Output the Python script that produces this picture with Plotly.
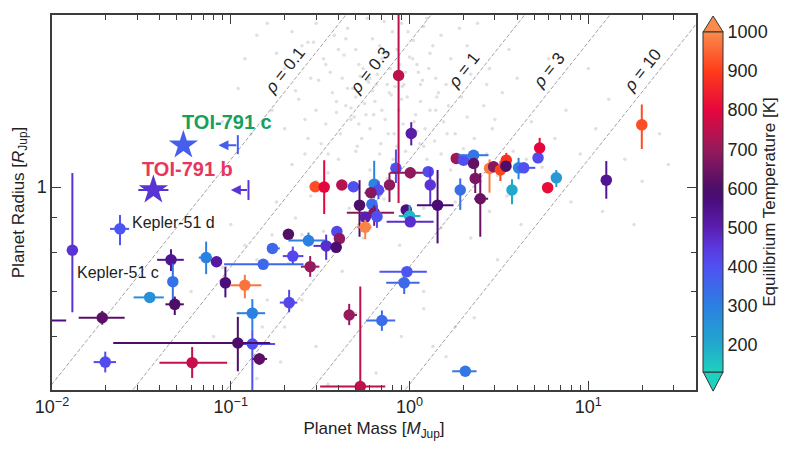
import numpy as np
import plotly.graph_objects as go
from plotly.colors import sample_colorscale

# Planets with measured mass and radius (Jupiter units) and equilibrium temperature [K]
mass = [0.0130, 0.0240, 0.0191, 0.0085, 0.01986, 0.0463, 0.0474, 0.0486, 0.0352, 0.0728,
        0.0832, 0.0933, 0.1518, 0.1198, 0.132, 0.132, 0.1095, 0.1445, 0.0608, 0.210,
        0.272, 0.171, 0.2223, 0.278, 0.2965, 0.333, 0.418, 0.4856, 0.634, 0.670,
        0.608, 0.772, 0.839, 0.868, 1.009, 1.272, 1.305, 1.434, 1.921, 1.825,
        2.005, 2.28, 2.28, 2.33, 2.486, 0.6156, 0.525, 0.634, 0.565, 0.657,
        0.565, 0.958, 1.0, 1.009, 1.022, 0.392, 0.405, 0.3416, 0.3886, 0.966,
        0.933, 0.212, 0.4595, 0.700, 0.530, 2.05, 2.80, 2.95, 3.22, 3.475,
        3.46, 3.74, 4.07, 4.35, 5.23, 5.34, 5.92, 6.62, 12.6, 19.9]
mass_lo = [None, 0.0211, 0.0141, 0.0060, 0.0171, 0.0387, None, 0.0431, 0.0286, 0.0662,
           None, None, 0.0918, 0.0991, 0.108, 0.111, 0.0220, 0.132, 0.0399, None,
           0.210, 0.160, 0.1954, 0.2466, 0.28, None, None, None, None, None,
           0.56, None, None, None, 0.774, None, None, 1.099, 1.85, 1.72,
           None, 1.877, None, None, 2.30, None, None, 0.4457, None, None,
           0.5055, None, 0.870, 0.744, None, None, None, 0.29, None, 0.679,
           0.740, 0.188, 0.434, 0.572, 0.316, 1.732, None, None, None, None,
           None, None, None, 3.99, None, None, None, None, None, None]
mass_hi = [None, 0.0270, 0.0255, 0.0120, 0.0228, 0.0546, None, 0.0546, 0.0422, 0.0785,
           None, None, 0.255, 0.1484, 0.1556, 0.177, 0.166, 0.1596, 0.0954, None,
           0.3375, 0.188, 0.2549, 0.313, 0.31, None, None, None, None, None,
           0.65, None, None, None, 1.272, None, None, 1.761, 2.0, 1.92,
           None, 2.764, None, None, 2.75, None, None, 0.819, None, None,
           0.613, None, 1.15, 1.363, None, None, None, 0.40, None, 1.249,
           1.137, 0.2353, 0.508, 0.831, 0.731, 2.37, None, None, None, None,
           None, None, None, 5.05, None, None, None, None, None, None]
radius = [0.806, 0.867, 0.640, 0.634, 0.550, 0.780, 0.724, 0.670, 0.686, 0.786,
          0.775, 0.721, 0.768, 0.715, 0.650, 0.585, 0.587, 0.556, 0.549, 0.851,
          0.833, 0.811, 0.790, 0.762, 1.001, 1.0, 1.007, 1.001, 1.010, 0.990,
          0.981, 1.007, 1.066, 1.464, 1.050, 1.054, 1.007, 0.940, 0.990, 1.103,
          1.096, 1.115, 1.084, 1.030, 0.961, 0.943, 0.940, 0.916, 0.902, 0.904,
          0.872, 0.925, 0.906, 0.888, 1.201, 0.859, 0.839, 0.818, 0.814, 0.749,
          0.721, 0.674, 0.646, 0.634, 0.506, 0.533, 1.066, 1.072, 1.060, 1.096,
          1.074, 0.990, 1.068, 1.068, 1.105, 1.143, 0.998, 1.032, 1.024, 1.237]
radius_lo = [0.652, 0.820, 0.625, None, 0.531, 0.751, 0.66, 0.646, None, 0.743,
             None, 0.686, None, 0.684, 0.614, 0.45, 0.533, 0.545, 0.521, None,
             0.816, None, 0.769, 0.736, None, 0.912, None, None, 0.962, 0.96,
             None, 0.95, 1.014, 0.947, 1.03, None, 0.94, 0.825, 0.925, None,
             None, None, None, 0.98, 0.844, None, 0.844, 0.876, None, 0.87,
             0.837, None, 0.88, None, 1.153, None, None, 0.78, None, 0.74,
             0.694, 0.652, 0.624, 0.612, 0.40, None, 0.981, None, 1.021, 1.062,
             None, 0.943, 1.027, None, None, 1.124, None, 1.0, 0.961, 1.139]
radius_hi = [1.049, 0.909, 0.655, None, 0.570, 0.809, 0.77, 0.688, None, 0.830,
             None, 0.762, None, 0.741, 0.682, 0.614, 0.642, 0.567, 0.579, None,
             0.856, None, 0.816, 0.790, None, 1.096, None, None, 1.094, 1.02,
             None, 1.05, 1.137, 2.5, 1.07, None, 1.07, 1.060, 1.030, None,
             None, None, None, 1.07, 1.049, None, 1.024, 0.940, None, 0.94,
             0.894, None, 0.94, None, 1.248, None, None, 0.85, None, 0.76,
             0.741, 0.704, 0.671, 0.656, 0.712, None, 1.099, None, 1.093, 1.124,
             None, 1.027, 1.105, None, None, 1.183, None, 1.06, 1.093, 1.326]
teq = [460, 390, 620, 560, 410, 540, 330, 600, 260, 300,
       520, 570, 350, 970, 300, 400, 600, 620, 760, 610,
       300, 350, 420, 700, 920, 800, 740, 400, 290, 410,
       680, 690, 410, 750, 690, 410, 460, 580, 340, 710,
       400, 320, 630, 660, 640, 340, 600, 680, 500, 400,
       990, 560, 170, 470, 510, 420, 690, 470, 590, 390,
       350, 420, 700, 340, 750, 320, 980, 680, 910, 880,
       600, 200, 290, 400, 410, 800, 810, 240, 540, 920]

# TOI-791 b and c
toi_names = ['TOI-791 b', 'TOI-791 c']
toi_mass = [0.0369, 0.0543]
toi_mass_lo = [0.0304, None]
toi_mass_hi = [0.0448, None]
toi_radius = [0.990, 1.154]
toi_teq = [460, 370]
toi_label_colors = ['#e8365d', '#17a05d']
# mass upper limits (alternative solution)
lim_mass = [0.1256, 0.1095]
lim_arrow_to = [0.100, 0.0853]
lim_radius_lo = [0.957, 1.119]
lim_radius_hi = [1.024, 1.194]

# Known planet population (background)
gray_mass = [0.25, 0.3, 0.33, 0.38, 0.42, 0.45, 0.5, 0.55, 0.58, 0.62, 0.7, 0.75, 0.8, 0.85, 0.9,
             0.95, 1.05, 1.1, 1.2, 1.3, 1.4, 1.5, 0.36, 0.48, 0.65, 0.72, 0.28, 0.22, 0.18, 0.16,
             0.2, 0.52, 0.68, 0.88, 1.15, 1.7, 1.9, 2.1, 2.4, 1.25, 0.4, 0.6, 0.78, 0.98, 1.35,
             0.17, 0.2, 0.24, 0.27, 0.3, 0.34, 0.37, 0.41, 0.44, 0.47, 0.5, 0.54, 0.57, 0.6, 0.64,
             0.69, 0.73, 0.77, 0.82, 0.87, 0.92, 0.97, 1.02, 1.08, 1.15, 1.22, 1.3, 1.38, 1.45, 1.55,
             1.65, 1.8, 1.95, 2.1, 2.3, 2.6, 2.9, 3.3, 0.32, 0.45, 0.62, 0.85, 1.2, 1.75, 0.26,
             0.39, 0.52, 0.7, 0.9, 1.1, 0.22, 0.26, 0.35, 0.4, 0.5, 0.6, 0.68, 0.8, 0.95, 1.1,
             1.25, 1.5, 1.7, 2.0, 2.3, 2.7, 3.1, 3.8, 4.5, 5.5, 0.3, 0.45, 0.75, 1.35, 1.9,
             2.5, 3.4, 0.18, 0.23, 0.28, 0.33, 0.46, 0.55, 0.72, 0.88, 1.2, 1.5, 1.8, 2.2, 2.8,
             3.5, 4.2, 0.38, 0.25, 0.6, 0.12, 0.15, 0.19, 0.25, 0.3, 0.42, 0.5, 0.65, 0.9, 1.2,
             1.6, 2.3, 3.1, 0.14, 0.08, 0.06, 0.21, 0.35, 4.8, 5.5, 6.5, 7.5, 9.0, 11.0, 13.0,
             16.0, 20.0, 25.0, 8.0, 12.0, 6.0, 3.6, 2.8, 4.0, 10.0, 18.0, 28.0, 0.12, 0.14, 0.11,
             0.09, 0.13, 0.1, 0.1, 0.12, 0.14, 0.16, 0.11, 0.13, 0.17, 0.09, 0.2, 1.2, 1.35, 1.8,
             0.31, 0.43, 0.56, 0.66, 0.83, 1.0, 1.18, 1.42, 0.29, 0.47, 0.58, 0.74, 0.93, 1.12,
             0.34, 0.39, 0.53, 0.63, 0.71, 0.79, 0.86, 1.04, 1.28, 1.6, 0.23, 0.27, 0.44, 0.49,
             0.59, 0.67, 0.76, 0.91, 1.06, 1.4, 2.2, 2.7, 3.0, 0.35, 0.51, 0.81, 1.14, 1.62]
gray_radius = [1.62, 1.75, 1.55, 1.68, 1.45, 1.72, 1.6, 1.5, 1.78, 1.66, 1.55, 1.42, 1.7, 1.6, 1.75,
               1.48, 1.65, 1.52, 1.73, 1.58, 1.45, 1.68, 1.48, 1.4, 1.42, 1.76, 1.45, 1.7, 1.58, 1.75,
               1.5, 1.52, 1.62, 1.52, 1.42, 1.55, 1.72, 1.62, 1.75, 1.78, 1.6, 1.45, 1.5, 1.7, 1.62,
               1.3, 1.22, 1.35, 1.18, 1.3, 1.24, 1.38, 1.2, 1.32, 1.26, 1.36, 1.18, 1.28, 1.22, 1.34,
               1.16, 1.26, 1.38, 1.2, 1.3, 1.24, 1.36, 1.18, 1.28, 1.34, 1.22, 1.3, 1.17, 1.38, 1.25,
               1.32, 1.2, 1.36, 1.27, 1.18, 1.32, 1.22, 1.38, 1.16, 1.4, 1.39, 1.15, 1.15, 1.42, 1.26,
               1.29, 1.24, 1.3, 1.35, 1.21, 1.08, 1.12, 1.05, 1.1, 1.13, 1.06, 1.12, 1.08, 1.13, 1.05,
               1.1, 1.12, 1.06, 1.14, 1.08, 1.12, 1.04, 1.13, 1.1, 1.07, 1.02, 1.0, 1.03, 1.02, 1.0,
               1.02, 1.09, 0.95, 0.9, 0.97, 0.86, 0.93, 0.84, 0.96, 0.82, 0.93, 0.87, 0.95, 0.84, 0.92,
               0.97, 0.88, 0.82, 0.85, 0.9, 0.72, 0.62, 0.55, 0.68, 0.58, 0.75, 0.65, 0.53, 0.6, 0.7,
               0.56, 0.64, 0.78, 0.52, 0.6, 0.7, 0.77, 0.51, 1.25, 1.4, 1.18, 1.3, 1.12, 1.22, 1.35,
               1.1, 1.02, 1.2, 0.95, 0.92, 1.55, 1.6, 1.5, 1.45, 1.5, 0.88, 1.08, 1.55, 1.68, 1.4,
               1.25, 1.2, 1.05, 0.88, 0.82, 0.78, 0.68, 0.65, 0.58, 0.85, 0.76, 0.62, 0.66, 0.58, 0.62,
               1.44, 1.57, 1.33, 1.47, 1.41, 1.56, 1.44, 1.36, 1.64, 1.31, 1.44, 1.58, 1.42, 1.48,
               1.52, 1.34, 1.46, 1.28, 1.58, 1.37, 1.46, 1.55, 1.5, 1.42, 1.39, 1.64, 1.66, 1.27,
               1.43, 1.53, 1.2, 1.41, 1.25, 1.3, 1.47, 1.42, 1.26, 1.12, 1.15, 1.1, 1.16, 1.2]

# Iso-density curves [g/cm^3]
densities = [0.1, 0.3, 1, 3, 10]
density_labels = ['0.1', '0.3', '1', '3', '10']
rho_jup = 1.326

cscale = [
    [0.0, '#1fd0be'], [0.08, '#21a9cc'], [0.195, '#2b80e2'], [0.31, '#5050f2'],
    [0.368, '#5a38de'], [0.425, '#5a1eb0'], [0.51, '#4a0c78'], [0.54, '#4c0e68'],
    [0.655, '#961a5c'], [0.77, '#e6063e'], [0.885, '#ff3c1a'], [1.0, '#f98c4c'],
]
tmin, tmax = 130, 1000


def tcolor(t):
    return sample_colorscale(cscale, [(t - tmin) / (tmax - tmin)])[0]


def err(val, lo, hi):
    if lo is None or hi is None:
        return dict(visible=False)
    return dict(type='data', symmetric=False, array=[hi - val], arrayminus=[val - lo],
                thickness=2, width=0)


fig = go.Figure()

fig.add_trace(go.Scatter(x=gray_mass, y=gray_radius, mode='markers',
                         marker=dict(size=3.5, color='#e0e0e0'), hoverinfo='skip'))

r_ends = np.array([0.4, 2.2])
for rho in densities:
    fig.add_trace(go.Scatter(x=rho * r_ends ** 3 / rho_jup, y=r_ends, mode='lines',
                             line=dict(color='#8a8a8a', width=0.8, dash='4px,2px'),
                             hoverinfo='skip'))

for i in range(len(mass)):
    c = tcolor(teq[i])
    ex = err(mass[i], mass_lo[i], mass_hi[i])
    ey = err(radius[i], radius_lo[i], radius_hi[i])
    ex['color'] = c
    ey['color'] = c
    fig.add_trace(go.Scatter(x=[mass[i]], y=[radius[i]], mode='markers',
                             marker=dict(size=11.5, color=c), error_x=ex, error_y=ey))

for i in range(2):
    c = tcolor(toi_teq[i])
    ex = err(toi_mass[i], toi_mass_lo[i], toi_mass_hi[i])
    ex['color'] = c
    fig.add_trace(go.Scatter(x=[toi_mass[i]], y=[toi_radius[i]], mode='markers',
                             marker=dict(size=22, symbol='star', color=c), error_x=ex))
    ey = err(toi_radius[i], lim_radius_lo[i], lim_radius_hi[i])
    ey['color'] = c
    fig.add_trace(go.Scatter(x=[lim_mass[i]], y=[toi_radius[i]], mode='markers',
                             marker=dict(size=1, opacity=0), error_y=ey))
    fig.add_annotation(x=np.log10(lim_arrow_to[i]), y=np.log10(toi_radius[i]),
                       ax=np.log10(lim_mass[i]), ay=np.log10(toi_radius[i]),
                       xref='x', yref='y', axref='x', ayref='y', text='',
                       showarrow=True, arrowhead=2, arrowsize=1, arrowwidth=2, arrowcolor=c)

# colour bar carrier
fig.add_trace(go.Scatter(
    x=mass, y=radius, mode='markers', hoverinfo='skip',
    marker=dict(size=1, opacity=0, color=teq, colorscale=cscale, cmin=tmin, cmax=tmax,
                showscale=True,
                colorbar=dict(thickness=20, len=340, lenmode='pixels', x=1.011, xanchor='left',
                              y=0.5013, yanchor='middle', xpad=0, ypad=0,
                              outlinewidth=1, outlinecolor='#333333', ticks='',
                              tickvals=[200, 300, 400, 500, 600, 700, 800, 900, 1000],
                              tickfont=dict(size=18),
                              title=dict(text='Equilibrium Temperature [K]', side='right',
                                         font=dict(size=17))))))

# colour bar extension triangles
cb_x0, cb_x1 = 1.0111, 1.0421
cb_xm = (cb_x0 + cb_x1) / 2
fig.add_shape(type='path', xref='paper', yref='paper',
              path=f'M {cb_x0} 0.9547 L {cb_x1} 0.9547 L {cb_xm} 0.9973 Z',
              fillcolor=tcolor(tmax), line=dict(color='#333333', width=1))
fig.add_shape(type='path', xref='paper', yref='paper',
              path=f'M {cb_x0} 0.048 L {cb_x1} 0.048 L {cb_xm} -0.003 Z',
              fillcolor=tcolor(tmin), line=dict(color='#333333', width=1))

# density labels
r_lab = 1.49
for rho, lab in zip(densities, density_labels):
    fig.add_annotation(x=np.log10(rho * r_lab ** 3 / rho_jup), y=np.log10(r_lab),
                       text=f'<i>ρ</i> = {lab}', showarrow=False, textangle=-51.5,
                       xshift=-17, font=dict(size=17, color='#222222'))

# planet labels
fig.add_annotation(x=np.log10(toi_mass[1]), y=np.log10(toi_radius[1]), text='<b>TOI-791 c</b>',
                   showarrow=False, xshift=44, yshift=23,
                   font=dict(size=20, color=toi_label_colors[1]))
fig.add_annotation(x=np.log10(toi_mass[0]), y=np.log10(toi_radius[0]), text='<b>TOI-791 b</b>',
                   showarrow=False, xshift=34, yshift=21,
                   font=dict(size=20, color=toi_label_colors[0]))
fig.add_annotation(x=np.log10(mass[1]), y=np.log10(radius[1]), text='Kepler-51 d',
                   showarrow=False, xanchor='left', xshift=10, yshift=6,
                   font=dict(size=16, color='#222222'))
fig.add_annotation(x=np.log10(mass[0]), y=np.log10(radius[0]), text='Kepler-51 c',
                   showarrow=False, xanchor='left', xshift=3, yshift=-22,
                   font=dict(size=16, color='#222222'))

x_minor = [k * 10.0 ** e for e in range(-2, 2) for k in range(2, 10) if k * 10.0 ** e < 40]
axis_style = dict(showline=True, linecolor='#3c3c3c', linewidth=1.5, mirror='ticks',
                  showgrid=False, zeroline=False, ticks='inside', ticklen=9, tickwidth=1.2,
                  tickcolor='#3c3c3c', tickfont=dict(size=18))
fig.update_xaxes(type='log', range=[-2, np.log10(40)],
                 tickvals=[0.01, 0.1, 1, 10],
                 ticktext=['10<sup>−2</sup>', '10<sup>−1</sup>', '10<sup>0</sup>', '10<sup>1</sup>'],
                 minor=dict(tickvals=x_minor, ticks='inside', ticklen=5, tickcolor='#3c3c3c',
                            tickwidth=1),
                 title=dict(text='Planet Mass [<i>M</i><sub>Jup</sub>]', standoff=6,
                            font=dict(size=17)),
                 **axis_style)
fig.update_yaxes(type='log', range=[np.log10(0.5), np.log10(1.8)],
                 tickvals=[1], ticktext=['1'],
                 minor=dict(tickvals=[0.5, 0.6, 0.7, 0.8, 0.9], ticks='inside', ticklen=5,
                            tickcolor='#3c3c3c', tickwidth=1),
                 title=dict(text='Planet Radius [<i>R</i><sub>Jup</sub>]', standoff=8,
                            font=dict(size=17)),
                 **axis_style)

# the page adds an 8 px body margin, so the figure is drawn 8 px smaller and offset
fig.update_layout(width=792, height=441, showlegend=False,
                  margin=dict(l=44, r=104.4, t=7, b=59, autoexpand=False),
                  plot_bgcolor='white', paper_bgcolor='white',
                  font=dict(family='Liberation Sans, Arial, sans-serif', color='#222222'))

fig.write_html('out.html')
